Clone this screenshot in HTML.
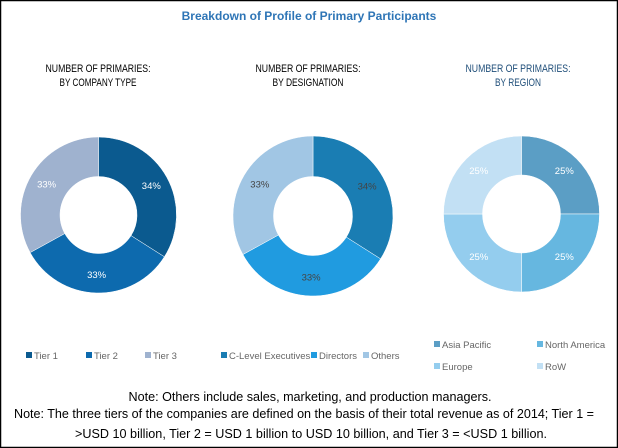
<!DOCTYPE html>
<html><head><meta charset="utf-8"><style>
html,body{margin:0;padding:0;background:#fff;}
svg{display:block;font-family:"Liberation Sans",sans-serif;}
</style></head><body>
<svg id="chart" width="618" height="448" viewBox="0 0 618 448">
<rect x="0.5" y="0.5" width="617" height="447" fill="#fff" stroke="#000" stroke-width="1.5"/>
<text x="309" y="20" text-anchor="middle" font-size="12" font-weight="bold" fill="#2e75b6">Breakdown of Profile of Primary Participants</text>
<g font-size="11" text-anchor="middle">
<text x="98" y="72" textLength="105" lengthAdjust="spacingAndGlyphs">NUMBER OF PRIMARIES:</text>
<text x="98" y="86" textLength="77" lengthAdjust="spacingAndGlyphs">BY COMPANY TYPE</text>
<text x="308" y="72" textLength="105" lengthAdjust="spacingAndGlyphs">NUMBER OF PRIMARIES:</text>
<text x="308" y="86" textLength="71" lengthAdjust="spacingAndGlyphs">BY DESIGNATION</text>
<text x="518" y="72" fill="#1f4e79" textLength="105" lengthAdjust="spacingAndGlyphs">NUMBER OF PRIMARIES:</text>
<text x="518" y="86" fill="#1f4e79" textLength="46" lengthAdjust="spacingAndGlyphs">BY REGION</text>
</g>
<g id="donuts"></g>
<g font-size="12.6" fill="#000" text-anchor="middle">
<text x="310" y="401" textLength="363" lengthAdjust="spacingAndGlyphs">Note: Others include sales, marketing, and production managers.</text>
<text x="304" y="418" textLength="580" lengthAdjust="spacingAndGlyphs">Note: The three tiers of the companies are defined on the basis of their total revenue as of 2014; Tier 1 =</text>
<text x="311" y="438" textLength="472" lengthAdjust="spacingAndGlyphs">&gt;USD 10 billion, Tier 2 = USD 1 billion to USD 10 billion, and Tier 3 = &lt;USD 1 billion.</text>
</g>
</svg>
<script>
const companyLabels = ["Tier 1","Tier 2","Tier 3"];
const companyValues = [34,33,33];
const designationLabels = ["C-Level Executives","Directors","Others"];
const designationValues = [34,33,33];
const regionLabels = ["Asia Pacific","North America","Europe","RoW"];
const regionValues = [25,25,25,25];

const NS="http://www.w3.org/2000/svg";
const root=document.getElementById('donuts');
function mk(tag,attrs,parent){const e=document.createElementNS(NS,tag);for(const k in attrs)e.setAttribute(k,attrs[k]);(parent||root).appendChild(e);return e;}
const charts=[
 {name:"company-type",labels:companyLabels,values:companyValues,cx:98.5,cy:215,r:78,ri:38.5,colors:["#0b5a8f","#0d6aae","#9fb2cf"],text:"#fff",
  legend:[[26,356],[86,356],[145,356]]},
 {name:"designation",labels:designationLabels,values:designationValues,cx:313,cy:216,r:80,ri:39.5,colors:["#1a7db3","#209be0","#a1c6e4"],text:"#444",
  legend:[[221,356],[311,356],[363,356]]},
 {name:"region",labels:regionLabels,values:regionValues,cx:521.5,cy:214,r:78,ri:39,colors:["#5b9ec5","#66b7e0","#94cdee","#c2e0f4"],text:"#fff",
  legend:[[434,345],[537,345],[434,367],[537,367]]}
];
charts.forEach(c=>{
 const total=c.values.reduce((a,b)=>a+b,0);
 let a0=-Math.PI/2;
 const g=mk('g',{});
 
 
 c.values.forEach((v,i)=>{
  const a1=a0+v/total*2*Math.PI;
  const large=(a1-a0)>Math.PI?1:0;
  const p=(r,a)=>(c.cx+r*Math.cos(a)).toFixed(2)+","+(c.cy+r*Math.sin(a)).toFixed(2);
  const d="M"+p(c.r,a0)+"A"+c.r+","+c.r+" 0 "+large+" 1 "+p(c.r,a1)+"L"+p(c.ri,a1)+"A"+c.ri+","+c.ri+" 0 "+large+" 0 "+p(c.ri,a0)+"Z";
  const s=mk('path',{d:d,fill:c.colors[i],stroke:"#fff","stroke-width":"0.5"},g);
  
  
  const am=(a0+a1)/2, rm=(c.r+c.ri)/2+2;
  const t=mk('text',{x:(c.cx+rm*Math.cos(am)).toFixed(1),y:(c.cy+rm*Math.sin(am)+3).toFixed(1),"text-anchor":"middle","font-size":"9.5",fill:c.text},g);
  t.textContent=v+"%";
  
  
  const [lx,ly]=c.legend[i];
  const lg=mk('g',{},root);
  
  
  mk('rect',{x:lx,y:ly-4,width:6,height:6,fill:c.colors[i]},lg);
  const lt=mk('text',{x:lx+8,y:ly+3,"font-size":"9.5",fill:"#666"},lg);
  lt.textContent=c.labels[i];
  a0=a1;
 });
});
</script>
</body></html>
